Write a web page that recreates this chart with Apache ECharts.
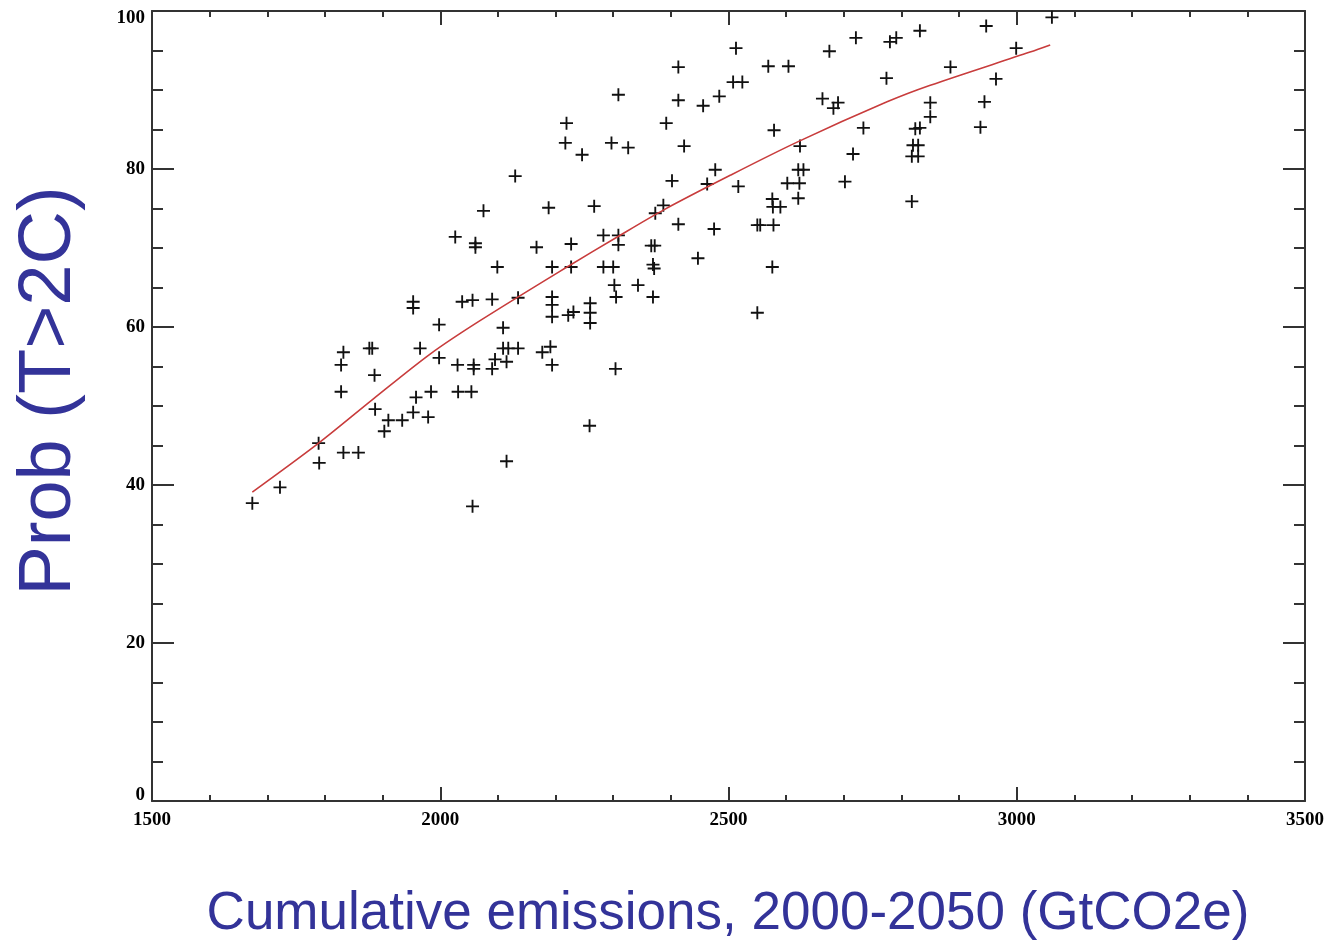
<!DOCTYPE html>
<html>
<head>
<meta charset="utf-8">
<script src="https://cdn.jsdelivr.net/npm/echarts@6/dist/echarts.min.js"></script>
<style>
  html, body { margin: 0; padding: 0; background: #fff; }
  #chart { width: 1333px; height: 942px; }
</style>
</head>
<body>
<div id="chart"></div>
<script type="text/javascript">
/* model runs: cumulative emissions 2000-2050 (GtCO2e) vs probability of T>2C (%) */
var emis = [1674,1722,1789,1790,1832,1858,1832,1828,1828,1877,1882,1886,1887,1903,1910,1934,1953,1958,1979,1984,
  1953,1953,1965,1998,1998,2026,2030,2031,2058,2058,2054,2038,2056,2056,2061,2061,2075,2090,2090,2099,
  2095,2109,2109,2118,2135,2115,2115,2135,2130,2167,2177,2191,2194,2188,2194,2194,2194,2194,2219,2217,
  2227,2227,2222,2231,2246,2259,2260,2260,2260,2267,2283,2283,2297,2300,2304,2309,2309,2309,2302,2305,
  2326,2343,2366,2372,2369,2371,2369,2373,2387,2392,2402,2413,2413,2413,2423,2447,2456,2463,2477,2475,
  2484,2513,2508,2524,2517,2550,2550,2555,2578,2569,2576,2579,2576,2577,2590,2604,2602,2623,2621,2624,
  2621,2630,2663,2675,2682,2690,2702,2721,2716,2734,2774,2780,2791,2818,2820,2829,2818,2829,2824,2832,
  2832,2850,2850,2885,2937,2944,2947,2964,2999,3061];
var prob = [37.7,39.7,45.3,42.8,44.1,44.1,56.8,55.2,51.8,57.3,57.3,53.9,49.6,46.8,48.2,48.2,49.2,51.1,48.6,51.8,
  63.2,62.4,57.3,60.3,56.1,71.4,55.2,51.8,55.2,54.7,51.8,63.2,63.4,37.3,70.6,70.1,74.7,63.5,54.7,67.6,
  55.9,59.9,57.3,57.3,57.3,55.6,43.0,63.7,79.1,70.1,56.8,57.5,55.2,75.1,67.6,63.8,62.8,61.3,85.8,83.3,
  70.5,67.6,61.5,61.9,81.8,47.5,63.0,61.8,60.5,75.3,71.6,67.6,83.3,67.6,54.7,89.4,71.6,70.4,65.3,63.8,
  82.7,65.3,70.3,70.3,67.9,67.4,63.8,74.4,75.4,85.8,78.5,92.9,88.7,73.0,82.9,68.7,88.0,78.1,79.9,72.4,
  89.2,95.3,91.0,91.0,77.8,61.8,72.9,72.9,72.9,93.0,67.6,84.9,76.2,75.2,75.2,93.0,78.2,78.2,76.3,82.9,
  79.9,79.9,88.9,94.9,87.7,88.4,78.4,96.6,81.9,85.2,91.5,96.1,96.6,75.9,83.0,83.0,81.6,81.6,85.1,85.2,
  97.5,88.4,86.6,92.9,85.3,88.5,98.1,91.4,95.3,99.2];

/* fitted curve (red) */
var fitX = [1674,1789,1884,1983,2069,2220,2307,2387,2503,2619,2775,2850,3023,3058];
var fitY = [39.1,45.3,50.9,56.6,60.8,67.6,71.4,74.8,79.2,83.4,88.5,90.6,94.8,95.7];

var pts = [];
$each(emis, function (i, e) { pts.push([e, prob[i]]); });
var fit = [];
$each(fitX, function (i, e) { fit.push([e, fitY[i]]); });

function $each(arr, fn) { for (var i = 0; i < arr.length; i++) fn(i, arr[i]); }

var axisCol = '#333';
var labelFont = { fontFamily: 'Liberation Serif, Times New Roman, serif', fontWeight: 'bold', fontSize: 19, color: '#000' };
var cross = 'path://M6,0H8V6H14V8H8V14H6V8H0V6H6Z';

function xAx(pos, show) {
  return {
    type: 'value', position: pos, min: 1500, max: 3500, interval: 500,
    axisLine: { show: true, onZero: false, lineStyle: { color: axisCol, width: 2 } },
    axisTick: { show: true, inside: true, length: 14, lineStyle: { color: axisCol, width: 2 } },
    minorTick: { show: true, splitNumber: 5, length: 6, lineStyle: { color: axisCol, width: 2 } },
    splitLine: { show: false },
    axisLabel: Object.assign({
      show: show, margin: 10,
      formatter: function (v) { return String(v); }
    }, labelFont)
  };
}
function yAx(pos, show) {
  return {
    type: 'value', position: pos, min: 0, max: 100, interval: 20,
    axisLine: { show: true, onZero: false, lineStyle: { color: axisCol, width: 2 } },
    axisTick: { show: true, inside: true, length: 22, lineStyle: { color: axisCol, width: 2 } },
    minorTick: { show: true, splitNumber: 4, length: 11, lineStyle: { color: axisCol, width: 2 } },
    splitLine: { show: false },
    axisLabel: Object.assign({
      show: show, margin: 7,
      formatter: function (v) {
        if (v === 100) return '{t|100}';
        if (v === 0) return '{b|0}';
        return String(v);
      },
      rich: {
        t: Object.assign({ padding: [14, 0, 0, 0] }, labelFont),
        b: Object.assign({ padding: [0, 0, 12, 0] }, labelFont)
      }
    }, labelFont)
  };
}

var chart = echarts.init(document.getElementById('chart'));
var option = {
  animation: false,
  backgroundColor: '#fff',
  grid: { left: 152, top: 11, right: 28, bottom: 141 },
  xAxis: [xAx('bottom', true), xAx('top', false)],
  yAxis: [yAx('left', true), yAx('right', false)],
  graphic: [
    {
      type: 'text', x: 50, y: 391, rotation: Math.PI / 2,
      style: {
        text: 'Prob (T>2C)', fill: '#333399', fontSize: 74,
        fontFamily: 'Liberation Sans, Arial, sans-serif',
        align: 'center', verticalAlign: 'middle'
      }
    },
    {
      type: 'text', x: 728, y: 914,
      style: {
        text: 'Cumulative emissions, 2000-2050 (GtCO2e)', fill: '#333399', fontSize: 53,
        fontFamily: 'Liberation Sans, Arial, sans-serif',
        align: 'center', verticalAlign: 'middle'
      }
    }
  ],
  series: [
    {
      type: 'scatter', data: pts, symbol: cross, symbolSize: 13,
      itemStyle: { color: '#111', opacity: 1 }, z: 2
    },
    {
      type: 'line', data: fit, showSymbol: false, smooth: 0.3,
      lineStyle: { color: '#c83c3c', width: 1.6 }, z: 3
    }
  ]
};
chart.setOption(option);
</script>
</body>
</html>
